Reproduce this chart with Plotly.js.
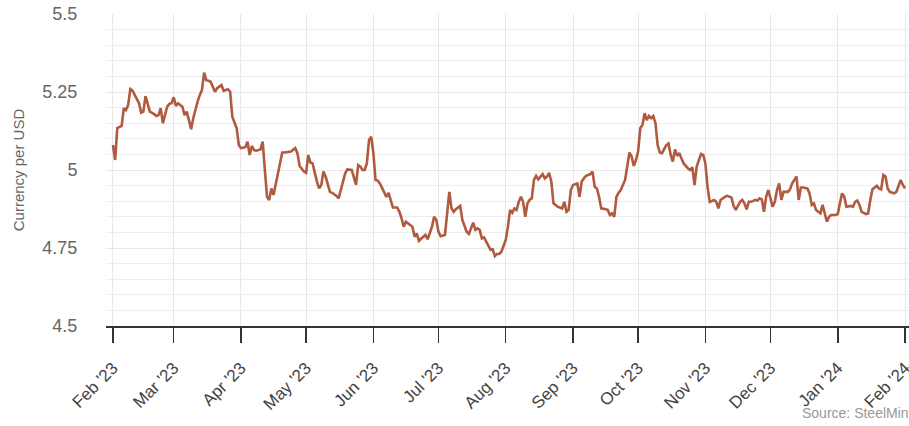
<!DOCTYPE html>
<html>
<head>
<meta charset="utf-8">
<script src="https://cdn.plot.ly/plotly-3.0.1.min.js"></script>
<style>
html,body{margin:0;padding:0;background:#fff;}
#chart{width:909px;height:426px;}
</style>
</head>
<body>
<div id="chart"></div>
<script>
const dates = [
'2023-02-01','2023-02-02','2023-02-03','2023-02-05','2023-02-06','2023-02-07','2023-02-08','2023-02-09','2023-02-10','2023-02-12',
'2023-02-13','2023-02-14','2023-02-15','2023-02-16','2023-02-17','2023-02-18','2023-02-20','2023-02-21','2023-02-22','2023-02-23',
'2023-02-24','2023-02-25','2023-02-26','2023-02-27','2023-02-28','2023-03-01','2023-03-02','2023-03-03','2023-03-04','2023-03-05',
'2023-03-06','2023-03-07','2023-03-08','2023-03-09','2023-03-10','2023-03-11','2023-03-12','2023-03-13','2023-03-14','2023-03-15',
'2023-03-16','2023-03-17','2023-03-18','2023-03-20','2023-03-21','2023-03-23','2023-03-24','2023-03-26','2023-03-27','2023-03-28',
'2023-03-30','2023-03-31','2023-04-01','2023-04-03','2023-04-04','2023-04-05','2023-04-06','2023-04-07','2023-04-08','2023-04-10',
'2023-04-11','2023-04-12','2023-04-13','2023-04-14','2023-04-15','2023-04-16','2023-04-17','2023-04-19','2023-04-20','2023-04-21',
'2023-04-23','2023-04-24','2023-04-26','2023-04-27','2023-04-28','2023-04-29','2023-04-30','2023-05-01','2023-05-02','2023-05-03',
'2023-05-04','2023-05-06','2023-05-07','2023-05-08','2023-05-09','2023-05-10','2023-05-11','2023-05-12','2023-05-13','2023-05-15',
'2023-05-16','2023-05-17','2023-05-18','2023-05-19','2023-05-20','2023-05-22','2023-05-23','2023-05-24','2023-05-25','2023-05-26',
'2023-05-27','2023-05-28','2023-05-29','2023-05-30','2023-05-31','2023-06-01','2023-06-02','2023-06-03','2023-06-04','2023-06-06',
'2023-06-07','2023-06-08','2023-06-09','2023-06-10','2023-06-12','2023-06-13','2023-06-14','2023-06-15','2023-06-16','2023-06-17',
'2023-06-19','2023-06-20','2023-06-21','2023-06-22','2023-06-23','2023-06-24','2023-06-25','2023-06-26','2023-06-28','2023-06-29',
'2023-06-30','2023-07-01','2023-07-02','2023-07-04','2023-07-05','2023-07-06','2023-07-07','2023-07-08','2023-07-09','2023-07-11',
'2023-07-12','2023-07-13','2023-07-14','2023-07-15','2023-07-17','2023-07-18','2023-07-19','2023-07-20','2023-07-21','2023-07-22',
'2023-07-24','2023-07-25','2023-07-26','2023-07-27','2023-07-28','2023-07-29','2023-07-30','2023-08-01','2023-08-02','2023-08-03',
'2023-08-04','2023-08-05','2023-08-06','2023-08-07','2023-08-08','2023-08-09','2023-08-10','2023-08-11','2023-08-12','2023-08-13',
'2023-08-14','2023-08-15','2023-08-16','2023-08-18','2023-08-19','2023-08-20','2023-08-21','2023-08-22','2023-08-23','2023-08-25',
'2023-08-26','2023-08-27','2023-08-28','2023-08-29','2023-08-30','2023-08-31','2023-09-01','2023-09-03','2023-09-04','2023-09-05',
'2023-09-06','2023-09-07','2023-09-09','2023-09-10','2023-09-11','2023-09-12','2023-09-13','2023-09-14','2023-09-16','2023-09-17',
'2023-09-18','2023-09-19','2023-09-20','2023-09-21','2023-09-22','2023-09-23','2023-09-25','2023-09-26','2023-09-27','2023-09-28',
'2023-09-29','2023-09-30','2023-10-01','2023-10-02','2023-10-03','2023-10-04','2023-10-05','2023-10-06','2023-10-07','2023-10-08',
'2023-10-09','2023-10-10','2023-10-11','2023-10-12','2023-10-14','2023-10-15','2023-10-16','2023-10-17','2023-10-18','2023-10-19',
'2023-10-20','2023-10-21','2023-10-22','2023-10-24','2023-10-25','2023-10-26','2023-10-27','2023-10-28','2023-10-29','2023-10-30',
'2023-10-31','2023-11-01','2023-11-02','2023-11-03','2023-11-05','2023-11-06','2023-11-07','2023-11-08','2023-11-10','2023-11-11',
'2023-11-13','2023-11-14','2023-11-15','2023-11-17','2023-11-18','2023-11-19','2023-11-20','2023-11-21','2023-11-22','2023-11-24',
'2023-11-25','2023-11-26','2023-11-27','2023-11-28','2023-11-29','2023-11-30','2023-12-02','2023-12-03','2023-12-04','2023-12-05',
'2023-12-06','2023-12-07','2023-12-09','2023-12-10','2023-12-11','2023-12-12','2023-12-13','2023-12-14','2023-12-15','2023-12-16',
'2023-12-18','2023-12-19','2023-12-20','2023-12-21','2023-12-22','2023-12-23','2023-12-24','2023-12-25','2023-12-26','2023-12-27',
'2023-12-28','2023-12-29','2023-12-31','2024-01-01','2024-01-02','2024-01-03','2024-01-04','2024-01-05','2024-01-07','2024-01-08',
'2024-01-09','2024-01-10','2024-01-11','2024-01-12','2024-01-14','2024-01-15','2024-01-16','2024-01-17','2024-01-19','2024-01-20',
'2024-01-21','2024-01-22','2024-01-23','2024-01-24','2024-01-25','2024-01-26','2024-01-27','2024-01-28','2024-01-29','2024-01-30',
'2024-01-31','2024-02-01'
];
const rates = [
5.080,5.032,5.134,5.141,5.198,5.192,5.208,5.259,5.254,5.224,
5.214,5.184,5.187,5.237,5.214,5.187,5.179,5.173,5.176,5.198,
5.150,5.182,5.203,5.212,5.214,5.233,5.205,5.214,5.208,5.203,
5.176,5.187,5.160,5.131,5.166,5.198,5.219,5.240,5.256,5.312,
5.288,5.286,5.283,5.251,5.262,5.272,5.254,5.259,5.251,5.171,
5.134,5.080,5.070,5.073,5.091,5.048,5.077,5.064,5.062,5.066,
5.091,5.000,4.914,4.904,4.941,4.920,4.957,5.032,5.056,5.056,
5.059,5.059,5.070,5.054,5.013,5.005,4.995,4.991,5.048,5.024,
5.021,4.963,4.941,4.952,4.995,4.979,4.957,4.930,4.927,4.917,
4.909,4.936,4.963,4.989,5.002,5.000,4.977,4.952,5.016,5.011,
5.000,5.000,5.021,5.096,5.107,5.054,4.968,4.966,4.957,4.925,
4.914,4.927,4.904,4.880,4.880,4.866,4.845,4.818,4.834,4.829,
4.818,4.786,4.797,4.773,4.781,4.786,4.792,4.778,4.818,4.850,
4.840,4.802,4.788,4.792,4.861,4.930,4.877,4.866,4.874,4.885,
4.840,4.818,4.802,4.795,4.831,4.808,4.813,4.808,4.781,4.784,
4.754,4.744,4.746,4.724,4.731,4.731,4.738,4.776,4.818,4.872,
4.863,4.877,4.872,4.898,4.914,4.898,4.850,4.893,4.904,4.909,
4.968,4.981,4.970,4.987,4.973,4.979,4.991,4.963,4.893,4.882,
4.880,4.877,4.898,4.866,4.872,4.936,4.952,4.957,4.914,4.963,
4.973,4.981,4.987,4.995,4.946,4.941,4.914,4.877,4.874,4.872,
4.856,4.861,4.850,4.914,4.927,4.936,4.968,5.016,5.056,5.043,
5.013,5.032,5.059,5.134,5.144,5.182,5.160,5.173,5.166,5.173,
5.150,5.080,5.056,5.054,5.080,5.085,5.048,5.027,5.066,5.045,
5.054,5.037,5.021,5.005,5.000,5.009,4.952,5.011,5.032,5.051,
5.048,5.021,4.946,4.898,4.904,4.898,4.877,4.904,4.914,4.917,
4.912,4.885,4.872,4.898,4.904,4.893,4.874,4.898,4.898,4.904,
4.902,4.909,4.906,4.866,4.914,4.936,4.882,4.898,4.936,4.957,
4.904,4.930,4.930,4.938,4.957,4.968,4.979,4.904,4.944,4.944,
4.941,4.925,4.888,4.893,4.872,4.866,4.861,4.888,4.861,4.834,
4.850,4.856,4.856,4.859,4.893,4.925,4.914,4.882,4.885,4.882,
4.898,4.902,4.888,4.866,4.859,4.861,4.904,4.938,4.949,4.941,
4.938,4.984,4.979,4.941,4.930,4.927,4.925,4.930,4.952,4.968,
4.952,4.941
];
const monthTicks = ['2023-02-01','2023-03-01','2023-04-01','2023-05-01','2023-06-01','2023-07-01','2023-08-01','2023-09-01','2023-10-01','2023-11-01','2023-12-01','2024-01-01','2024-02-01'];
const monthLabels = ["Feb '23","Mar '23","Apr '23","May '23","Jun '23","Jul '23","Aug '23","Sep '23","Oct '23","Nov '23","Dec '23","Jan '24","Feb '24"];
const yTicks = [4.5, 4.75, 5, 5.25, 5.5];
const yLabels = ['4.5','4.75','5','5.25','5.5'];

const FONT = '"Liberation Sans", Arial, Helvetica, sans-serif';

const trace = {
  x: dates, y: rates, type: 'scatter', mode: 'lines',
  line: {color: '#b05a3f', width: 2.6},
  hoverinfo: 'skip'
};

const layout = {
  width: 909, height: 426,
  margin: {l: 106, r: 0, t: 14, b: 100},
  paper_bgcolor: '#ffffff', plot_bgcolor: '#ffffff',
  showlegend: false,
  font: {family: FONT, color: '#666'},
  xaxis: {
    type: 'date',
    range: ['2023-01-28 19:00', '2024-02-02 20:00'],
    tickmode: 'array', tickvals: monthTicks, ticktext: monthLabels,
    tickangle: -45,
    tickfont: {family: FONT, size: 17, color: '#444'},
    ticks: 'outside', ticklen: 15, tickwidth: 1.5, tickcolor: '#333',
    ticklabelstandoff: 9,
    ticklabeloverflow: 'allow',
    showline: true, linecolor: '#333', linewidth: 1.5,
    showgrid: true, gridcolor: '#e8e8e8', gridwidth: 1,
    zeroline: false, fixedrange: true
  },
  yaxis: {
    range: [4.5, 5.5],
    tickmode: 'array', tickvals: yTicks, ticktext: yLabels,
    tickfont: {family: FONT, size: 18, color: '#666'},
    ticks: 'outside', ticklen: 24, tickcolor: 'rgba(0,0,0,0)',
    showline: false,
    showgrid: true, gridcolor: '#e8e8e8', gridwidth: 1,
    minor: {tickmode: 'linear', tick0: 4.5, dtick: 0.05, showgrid: true, gridcolor: '#ededed', gridwidth: 1, ticks: ''},
    zeroline: false, fixedrange: true,
    title: {text: 'Currency per USD', font: {family: FONT, size: 15, color: '#666'}, standoff: 14}
  },
  annotations: [{
    text: 'Source: SteelMint', xref: 'paper', yref: 'paper',
    x: (800 - 106) / 803, y: -(413 - 326) / 312,
    xanchor: 'left', yanchor: 'middle', showarrow: false,
    font: {family: FONT, size: 14, color: '#999'}
  }]
};

Plotly.newPlot('chart', [trace], layout, {staticPlot: true, displayModeBar: false});
</script>
</body>
</html>
